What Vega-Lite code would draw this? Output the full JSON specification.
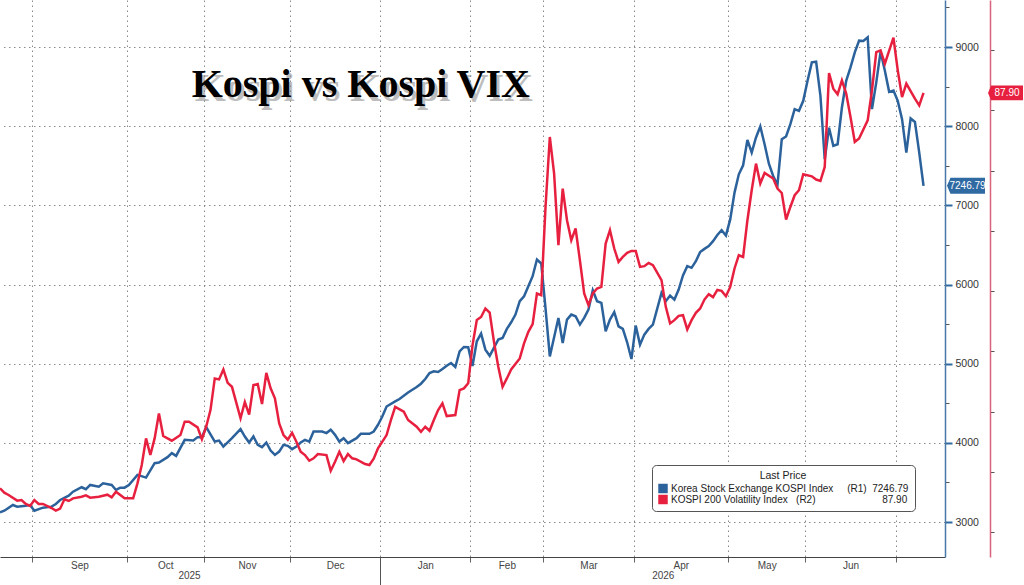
{
  "$schema": "https://vega.github.io/schema/vega-lite/v6.json",
  "width": 945,
  "height": 557,
  "autosize": {"type": "none"},
  "padding": {"left": 0, "top": 0, "right": 79, "bottom": 28},
  "background": "white",
  "config": {
    "view": {"stroke": null},
    "font": "Liberation Sans",
    "axis": {"labelFont": "Liberation Sans", "labelFontSize": 10.5, "labelColor": "#333", "labelFlush": false, "labelOverlap": false, "title": null}
  },
  "datasets": {
    "kospi": [
      {"t":0,"v":3123},{"t":1,"v":3143},{"t":3,"v":3215},{"t":4,"v":3194},{"t":6,"v":3206},{"t":7,"v":3215},{"t":8,"v":3143},{"t":10,"v":3181},{"t":12,"v":3194},{"t":13,"v":3228},{"t":14,"v":3278},{"t":16,"v":3333},{"t":17,"v":3383},{"t":19,"v":3439},{"t":20,"v":3414},{"t":21,"v":3468},{"t":23,"v":3447},{"t":24,"v":3490},{"t":26,"v":3468},{"t":27,"v":3405},{"t":28,"v":3434},{"t":29,"v":3434},{"t":30,"v":3468},{"t":32,"v":3595},{"t":34,"v":3561},{"t":36,"v":3743},{"t":37,"v":3751},{"t":39,"v":3819},{"t":40,"v":3870},{"t":41,"v":3835},{"t":43,"v":4038},{"t":45,"v":4029},{"t":46,"v":4072},{"t":47,"v":4072},{"t":48,"v":4199},{"t":50,"v":4016},{"t":51,"v":4029},{"t":52,"v":3953},{"t":54,"v":4059},{"t":56,"v":4173},{"t":57,"v":4080},{"t":58,"v":4004},{"t":59,"v":4080},{"t":60,"v":3975},{"t":61,"v":3946},{"t":62,"v":4004},{"t":63,"v":3903},{"t":64,"v":3848},{"t":65,"v":3890},{"t":66,"v":3975},{"t":67,"v":3962},{"t":68,"v":3920},{"t":69,"v":3953},{"t":70,"v":4004},{"t":71,"v":4038},{"t":72,"v":4016},{"t":73,"v":4143},{"t":75,"v":4143},{"t":76,"v":4123},{"t":77,"v":4165},{"t":78,"v":4101},{"t":79,"v":4016},{"t":80,"v":4059},{"t":81,"v":3996},{"t":83,"v":4059},{"t":84,"v":4114},{"t":86,"v":4114},{"t":87,"v":4143},{"t":88,"v":4228},{"t":89,"v":4333},{"t":90,"v":4459},{"t":92,"v":4523},{"t":93,"v":4553},{"t":94,"v":4595},{"t":95,"v":4637},{"t":97,"v":4705},{"t":98,"v":4747},{"t":99,"v":4806},{"t":100,"v":4882},{"t":101,"v":4903},{"t":102,"v":4895},{"t":103,"v":4933},{"t":104,"v":4975},{"t":105,"v":5009},{"t":106,"v":4958},{"t":107,"v":5156},{"t":108,"v":5211},{"t":109,"v":5209},{"t":110,"v":4970},{"t":111,"v":5283},{"t":112,"v":5380},{"t":113,"v":5177},{"t":114,"v":5100},{"t":116,"v":5304},{"t":117,"v":5325},{"t":118,"v":5440},{"t":119,"v":5523},{"t":120,"v":5620},{"t":121,"v":5789},{"t":122,"v":5852},{"t":123,"v":5978},{"t":124,"v":6105},{"t":125,"v":6316},{"t":126,"v":6266},{"t":127,"v":5700},{"t":128,"v":5092},{"t":130,"v":5578},{"t":131,"v":5262},{"t":132,"v":5557},{"t":133,"v":5620},{"t":134,"v":5599},{"t":135,"v":5494},{"t":136,"v":5578},{"t":137,"v":5684},{"t":138,"v":5928},{"t":139,"v":5789},{"t":140,"v":5768},{"t":141,"v":5409},{"t":142,"v":5557},{"t":143,"v":5650},{"t":144,"v":5472},{"t":145,"v":5439},{"t":146,"v":5270},{"t":147,"v":5059},{"t":148,"v":5481},{"t":149,"v":5240},{"t":150,"v":5367},{"t":151,"v":5439},{"t":152,"v":5494},{"t":154,"v":5895},{"t":155,"v":5789},{"t":156,"v":5861},{"t":157,"v":5810},{"t":158,"v":5937},{"t":159,"v":6114},{"t":160,"v":6232},{"t":161,"v":6211},{"t":162,"v":6295},{"t":163,"v":6410},{"t":164,"v":6450},{"t":165,"v":6485},{"t":166,"v":6548},{"t":167,"v":6625},{"t":168,"v":6687},{"t":169,"v":6620},{"t":170,"v":6823},{"t":171,"v":7161},{"t":172,"v":7392},{"t":173,"v":7506},{"t":174,"v":7826},{"t":175,"v":7667},{"t":176,"v":7857},{"t":177,"v":7996},{"t":178,"v":7772},{"t":179,"v":7526},{"t":180,"v":7371},{"t":181,"v":7260},{"t":182,"v":7835},{"t":183,"v":7870},{"t":184,"v":8025},{"t":185,"v":8215},{"t":186,"v":8194},{"t":187,"v":8320},{"t":188,"v":8573},{"t":189,"v":8806},{"t":190,"v":8814},{"t":191,"v":8383},{"t":192,"v":7582},{"t":193,"v":7980},{"t":194,"v":7751},{"t":195,"v":7772},{"t":196,"v":8236},{"t":197,"v":8573},{"t":198,"v":8743},{"t":199,"v":8933},{"t":200,"v":9080},{"t":201,"v":9076},{"t":202,"v":9123},{"t":203,"v":8215},{"t":204,"v":8553},{"t":205,"v":8941},{"t":206,"v":8700},{"t":207,"v":8434},{"t":208,"v":8450},{"t":209,"v":8320},{"t":210,"v":8089},{"t":211,"v":7667},{"t":212,"v":8098},{"t":213,"v":8054},{"t":214,"v":7667},{"t":215,"v":7246.79}
    ],
    "vix": [
      {"t":0,"v":22.27},{"t":1,"v":21.54},{"t":2,"v":21.16},{"t":4,"v":20.22},{"t":5,"v":20.33},{"t":6,"v":19.67},{"t":7,"v":19.34},{"t":8,"v":20.33},{"t":9,"v":19.67},{"t":10,"v":19.67},{"t":12,"v":19.0},{"t":13,"v":18.56},{"t":14,"v":18.89},{"t":15,"v":20.45},{"t":16,"v":20.17},{"t":17,"v":20.61},{"t":19,"v":20.88},{"t":20,"v":21.11},{"t":21,"v":20.71},{"t":23,"v":20.88},{"t":24,"v":21.04},{"t":25,"v":21.21},{"t":26,"v":20.78},{"t":27,"v":21.71},{"t":28,"v":21.16},{"t":29,"v":20.61},{"t":31,"v":20.61},{"t":32,"v":23.1},{"t":33,"v":26.14},{"t":34,"v":30.56},{"t":35,"v":27.79},{"t":36,"v":30.56},{"t":37,"v":34.7},{"t":38,"v":30.95},{"t":40,"v":30.17},{"t":42,"v":31.11},{"t":43,"v":33.32},{"t":44,"v":33.32},{"t":46,"v":32.39},{"t":47,"v":30.4},{"t":48,"v":32.49},{"t":49,"v":35.26},{"t":50,"v":40.51},{"t":51,"v":40.35},{"t":52,"v":42.0},{"t":53,"v":39.78},{"t":54,"v":39.12},{"t":56,"v":33.9},{"t":57,"v":36.6},{"t":58,"v":34.5},{"t":59,"v":39.4},{"t":60,"v":39.57},{"t":61,"v":36.25},{"t":62,"v":41.44},{"t":63,"v":38.86},{"t":64,"v":37.2},{"t":65,"v":33.05},{"t":66,"v":31.11},{"t":67,"v":30.35},{"t":68,"v":31.49},{"t":69,"v":30.0},{"t":70,"v":28.34},{"t":71,"v":27.79},{"t":72,"v":26.85},{"t":73,"v":27.25},{"t":74,"v":27.96},{"t":76,"v":27.79},{"t":77,"v":25.19},{"t":78,"v":26.68},{"t":79,"v":28.34},{"t":80,"v":26.8},{"t":81,"v":27.96},{"t":82,"v":27.25},{"t":83,"v":27.08},{"t":85,"v":26.3},{"t":86,"v":26.14},{"t":87,"v":27.2},{"t":88,"v":28.9},{"t":90,"v":31.11},{"t":91,"v":33.6},{"t":92,"v":35.8},{"t":94,"v":34.98},{"t":95,"v":33.6},{"t":97,"v":32.49},{"t":98,"v":31.66},{"t":99,"v":32.49},{"t":100,"v":31.82},{"t":101,"v":33.6},{"t":102,"v":35.26},{"t":103,"v":36.37},{"t":104,"v":34.26},{"t":106,"v":34.43},{"t":107,"v":38.57},{"t":108,"v":38.86},{"t":109,"v":39.7},{"t":110,"v":46.0},{"t":111,"v":50.2},{"t":112,"v":50.7},{"t":113,"v":52.12},{"t":114,"v":51.45},{"t":115,"v":46.58},{"t":116,"v":42.44},{"t":117,"v":39.12},{"t":118,"v":40.51},{"t":119,"v":42.0},{"t":121,"v":43.83},{"t":122,"v":46.32},{"t":123,"v":48.24},{"t":124,"v":49.52},{"t":125,"v":54.61},{"t":126,"v":54.33},{"t":127,"v":68.97},{"t":128,"v":80.58},{"t":129,"v":74.51},{"t":130,"v":62.62},{"t":131,"v":72.02},{"t":132,"v":66.77},{"t":133,"v":63.45},{"t":134,"v":65.39},{"t":135,"v":60.13},{"t":136,"v":54.61},{"t":137,"v":52.67},{"t":138,"v":54.61},{"t":139,"v":55.44},{"t":140,"v":55.7},{"t":141,"v":62.9},{"t":142,"v":65.11},{"t":143,"v":62.07},{"t":144,"v":59.85},{"t":145,"v":60.68},{"t":146,"v":61.34},{"t":147,"v":61.67},{"t":148,"v":61.67},{"t":149,"v":59.02},{"t":150,"v":59.14},{"t":151,"v":59.68},{"t":152,"v":59.3},{"t":154,"v":56.82},{"t":155,"v":52.39},{"t":156,"v":49.64},{"t":157,"v":50.18},{"t":158,"v":50.9},{"t":159,"v":51.01},{"t":160,"v":48.64},{"t":161,"v":50.18},{"t":162,"v":51.39},{"t":163,"v":52.12},{"t":164,"v":53.6},{"t":165,"v":54.5},{"t":166,"v":54.0},{"t":167,"v":55.2},{"t":168,"v":55.04},{"t":169,"v":54.16},{"t":170,"v":55.7},{"t":171,"v":58.76},{"t":172,"v":60.96},{"t":173,"v":60.68},{"t":174,"v":66.77},{"t":175,"v":71.74},{"t":176,"v":76.17},{"t":177,"v":72.85},{"t":178,"v":74.61},{"t":180,"v":73.68},{"t":181,"v":72.02},{"t":182,"v":71.29},{"t":183,"v":66.87},{"t":184,"v":68.97},{"t":185,"v":70.91},{"t":186,"v":71.74},{"t":187,"v":74.39},{"t":189,"v":74.06},{"t":190,"v":73.52},{"t":191,"v":73.28},{"t":192,"v":75.61},{"t":193,"v":91.19},{"t":194,"v":88.6},{"t":195,"v":87.66},{"t":196,"v":89.98},{"t":197,"v":87.78},{"t":198,"v":83.9},{"t":199,"v":79.75},{"t":200,"v":80.32},{"t":202,"v":83.35},{"t":203,"v":88.33},{"t":204,"v":94.68},{"t":205,"v":94.96},{"t":206,"v":92.75},{"t":208,"v":97.06},{"t":209,"v":91.64},{"t":210,"v":87.2},{"t":211,"v":89.44},{"t":213,"v":86.95},{"t":214,"v":85.84},{"t":215,"v":87.90}
    ]
  },
  "layer": [
    {
      "data": {"name": "kospi"},
      "layer": [
        {
          "mark": {"type": "line", "color": "#2c629b", "strokeWidth": 2.5},
          "encoding": {
            "x": {
              "field": "t", "type": "quantitative",
              "scale": {"domain": [0, 220], "nice": false, "zero": false},
              "axis": {
                "orient": "bottom",
                "values": [7.5, 29.5, 47.5, 67.5, 88.5, 109.5, 126.5, 147.5, 169.5, 187.5, 208.5],
                "labels": false, "ticks": true, "tickSize": 5, "tickColor": "#666",
                "domain": true, "domainColor": "#444", "domainWidth": 1,
                "grid": true, "gridColor": "#8a8a8a", "gridDash": [1.5, 3.5], "gridWidth": 1, "title": null
              }
            },
            "y": {
              "field": "v", "type": "quantitative",
              "scale": {"domain": [2558, 9594], "nice": false, "zero": false},
              "axis": {
                "orient": "right", "title": null,
                "values": [3000, 3500, 4000, 4500, 5000, 5500, 6000, 6500, 7000, 7500, 8000, 8500, 9000, 9500],
                "labelExpr": "datum.value % 1000 == 0 ? datum.value : ''",
                "tickSize": {"condition": {"test": "datum.value % 1000 == 0", "value": 7}, "value": 4},
                "tickColor": {"condition": {"test": "datum.value % 1000 == 0", "value": "#2f6aa3"}, "value": "#555"},
                "tickWidth": {"condition": {"test": "datum.value % 1000 == 0", "value": 2}, "value": 1},
                "labelPadding": 3,
                "domain": true, "domainColor": "#4a78a8", "domainWidth": 1.5,
                "grid": true, "gridColor": "#8a8a8a", "gridDash": [1.5, 3.5], "gridWidth": 1,
                "gridOpacity": {"condition": {"test": "datum.value % 1000 == 0", "value": 1}, "value": 0}
              }
            },
            "color": {
              "datum": "Korea Stock Exchange KOSPI Index",
              "scale": {"domain": ["Korea Stock Exchange KOSPI Index", "KOSPI 200 Volatility Index"], "range": ["#2c629b", "#e8203f"]},
              "legend": {
                "orient": "none", "legendX": 652, "legendY": 465,
                "title": "Last Price", "titleAnchor": "middle", "titleFontSize": 10.5, "titleFontWeight": "normal", "titleColor": "#222", "titleFont": "Liberation Sans", "titlePadding": 2,
                "labelFont": "Liberation Sans", "labelFontSize": 10, "labelColor": "#222", "labelOffset": 3, "labelLimit": 0,
                "symbolType": "square", "symbolSize": 90, "symbolStrokeWidth": 0,
                "strokeColor": "#555", "fillColor": "white", "cornerRadius": 4, "padding": 6, "rowPadding": 1,
                "labelExpr": "datum.label == 'Korea Stock Exchange KOSPI Index' ? 'Korea Stock Exchange KOSPI Index\u00a0\u00a0\u00a0\u00a0\u00a0(R1)\u00a0\u00a07246.79' : 'KOSPI 200 Volatility Index\u00a0\u00a0\u00a0(R2)\u00a0\u00a0\u00a0\u00a0\u00a0\u00a0\u00a0\u00a0\u00a0\u00a0\u00a0\u00a0\u00a0\u00a0\u00a0\u00a0\u00a0\u00a0\u00a0\u00a0\u00a0\u00a0\u00a0\u00a087.90'",
                "encode": {"symbols": {"update": {"fill": {"scale": "color", "field": "value"}, "stroke": {"value": "transparent"}}}}
              }
            }
          }
        },
        {
          "transform": [{"filter": "datum.t == 215"}],
          "mark": {"type": "point", "shape": "M-1,0L-0.82,-0.42L1,-0.42L1,0.42L-0.82,0.42Z", "filled": true, "size": 1444, "color": "#2f6aa3", "opacity": 1, "xOffset": 42.5},
          "encoding": {"x": {"field": "t", "type": "quantitative"}, "y": {"field": "v", "type": "quantitative"}}
        },
        {
          "transform": [{"filter": "datum.t == 215"}],
          "mark": {"type": "text", "color": "white", "fontSize": 10, "font": "Liberation Sans", "align": "center", "baseline": "middle", "xOffset": 44},
          "encoding": {"x": {"field": "t", "type": "quantitative"}, "y": {"field": "v", "type": "quantitative"}, "text": {"field": "v", "type": "quantitative", "format": ".2f"}}
        }
      ]
    },
    {
      "data": {"name": "vix"},
      "layer": [
        {
          "mark": {"type": "line", "color": "#e8203f", "strokeWidth": 2.5},
          "encoding": {
            "x": {
              "field": "t", "type": "quantitative",
              "axis": {
                "orient": "bottom",
                "values": [18.5, 38.5, 57.5, 78, 99, 118, 137, 158.5, 178.5, 198],
                "labelExpr": "datum.value < 20 ? 'Sep' : datum.value < 40 ? 'Oct' : datum.value < 60 ? 'Nov' : datum.value < 80 ? 'Dec' : datum.value < 100 ? 'Jan' : datum.value < 120 ? 'Feb' : datum.value < 140 ? 'Mar' : datum.value < 160 ? 'Apr' : datum.value < 180 ? 'May' : 'Jun'",
                "ticks": false, "domain": false, "grid": false, "labelPadding": 3, "labelFontSize": 10, "labelColor": "#444", "title": null
              }
            },
            "y": {
              "field": "v", "type": "quantitative",
              "scale": {"domain": [10.87, 103.32], "nice": false, "zero": false},
              "axis": {
                "orient": "right", "offset": 45, "title": null,
                "values": [15, 20, 25, 30, 35, 40, 45, 50, 55, 60, 65, 70, 75, 80, 85, 90, 95, 100],
                "labelExpr": "datum.value % 10 == 0 ? datum.value : ''",
                "tickSize": {"condition": {"test": "datum.value % 10 == 0", "value": 7}, "value": 4},
                "tickColor": {"condition": {"test": "datum.value % 10 == 0", "value": "#e8203f"}, "value": "#555"},
                "tickWidth": {"condition": {"test": "datum.value % 10 == 0", "value": 2}, "value": 1},
                "labelPadding": 3,
                "domain": true, "domainColor": "#d9627c", "domainWidth": 1.5,
                "grid": false
              }
            },
            "color": {"datum": "KOSPI 200 Volatility Index"}
          }
        },
        {
          "transform": [{"filter": "datum.t == 215"}],
          "mark": {"type": "point", "shape": "M-1,0L-0.82,-0.42L1,-0.42L1,0.42L-0.82,0.42Z", "filled": true, "size": 1225, "color": "#e8203f", "opacity": 1, "xOffset": 82},
          "encoding": {"x": {"field": "t", "type": "quantitative"}, "y": {"field": "v", "type": "quantitative"}}
        },
        {
          "transform": [{"filter": "datum.t == 215"}],
          "mark": {"type": "text", "color": "white", "fontSize": 10, "font": "Liberation Sans", "align": "center", "baseline": "middle", "xOffset": 83.5},
          "encoding": {"x": {"field": "t", "type": "quantitative"}, "y": {"field": "v", "type": "quantitative"}, "text": {"field": "v", "type": "quantitative", "format": ".2f"}}
        }
      ]
    },
    {
      "data": {"values": [{}]},
      "layer": [
        {
          "mark": {"type": "text", "text": "Kospi vs Kospi VIX", "font": "Liberation Serif", "fontWeight": "bold", "fontSize": 40, "color": "#888", "opacity": 0.55, "align": "center", "baseline": "alphabetic", "dx": 3, "dy": 4},
          "encoding": {
            "x": {
              "datum": 84, "type": "quantitative",
              "axis": {
                "orient": "bottom",
                "values": [44, 88.5, 154.3],
                "labelExpr": "datum.value < 80 ? '2025' : datum.value > 100 ? '2026' : ''",
                "ticks": true, "tickSize": 28,
                "tickColor": {"condition": {"test": "datum.value == 88.5", "value": "#555"}, "value": "transparent"},
                "labelPadding": -15, "domain": false, "grid": false, "labelFontSize": 10, "labelColor": "#444", "title": null
              }
            },
            "y": {"datum": 8369, "type": "quantitative", "scale": {"domain": [2558, 9594], "nice": false, "zero": false}, "axis": null}
          }
        },
        {
          "mark": {"type": "text", "text": "Kospi vs Kospi VIX", "font": "Liberation Serif", "fontWeight": "bold", "fontSize": 40, "color": "#000", "align": "center", "baseline": "alphabetic"},
          "encoding": {
            "x": {"datum": 84, "type": "quantitative"},
            "y": {"datum": 8369, "type": "quantitative"}
          }
        }
      ]
    }
  ],
  "resolve": {"scale": {"y": "independent"}, "axis": {"x": "independent", "y": "independent"}}
}
